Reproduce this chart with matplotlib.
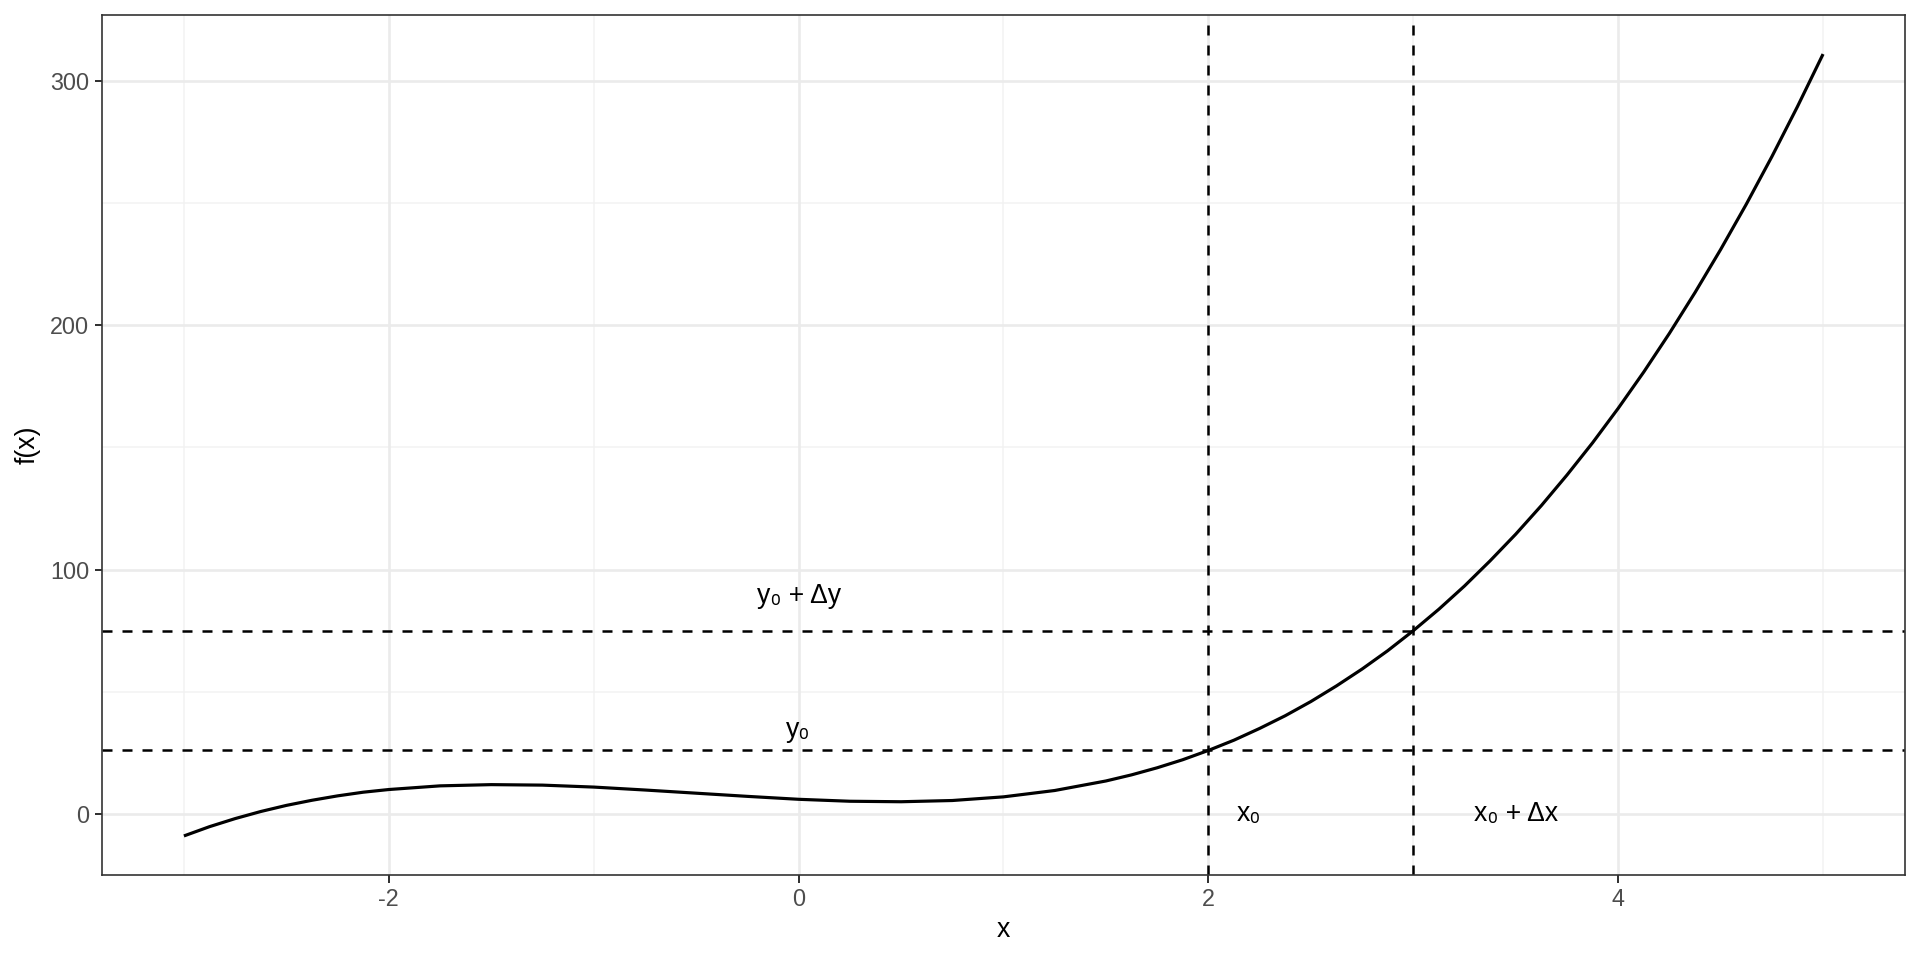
import matplotlib
matplotlib.use("Agg")
import matplotlib.pyplot as plt

# curve values
X = [-3, -2.875, -2.75, -2.625, -2.5, -2.375, -2.25, -2.125, -2, -1.75,
     -1.5, -1.25, -1, -0.75, -0.5, -0.25, 0, 0.25, 0.5, 0.75, 1, 1.25,
     1.5, 1.625, 1.75, 1.875, 2, 2.125, 2.25, 2.375, 2.5, 2.625, 2.75,
     2.875, 3, 3.125, 3.25, 3.375, 3.5, 3.625, 3.75, 3.875, 4, 4.125,
     4.25, 4.375, 4.5, 4.625, 4.75, 4.875, 5]
FX = [-9, -5.2, -1.9, 1.0, 3.5, 5.6, 7.4, 8.9, 10, 11.5,
      12, 11.8, 11, 9.8, 8.5, 7.2, 6, 5.2, 5, 5.5, 7, 9.6,
      13.5, 16.0, 18.9, 22.2, 26, 30.2, 35.0, 40.2, 46, 52.4, 59.3,
      66.8, 75, 83.8, 93.3, 103.6, 114.5, 126.2, 138.7, 151.9, 166, 180.9,
      196.7, 213.4, 231, 249.5, 269.0, 289.5, 311]

X0, DX = 2, 1
Y0, Y1 = 26, 75

# annotation labels (text, x, y)
LABELS = [("y\u2080 + \u0394y", 0, 89),
          ("y\u2080", 0, 34.5),
          ("x\u2080", 2.2, 0),
          ("x\u2080 + \u0394x", 3.5, 0)]

plt.rcParams["font.family"] = ["Liberation Sans", "DejaVu Sans"]

fig = plt.figure(figsize=(16, 8), dpi=120)
ax = fig.add_axes([0.0531, 0.0885, 0.9391, 0.8959])

# grid like theme_bw
for v in [-3, -1, 1, 3, 5]:
    ax.axvline(v, color="#F2F2F2", lw=0.9, zorder=0)
for v in [50, 150, 250]:
    ax.axhline(v, color="#F2F2F2", lw=0.9, zorder=0)
for v in [-2, 0, 2, 4]:
    ax.axvline(v, color="#EBEBEB", lw=1.6, zorder=0)
for v in [0, 100, 200, 300]:
    ax.axhline(v, color="#EBEBEB", lw=1.6, zorder=0)

ax.plot(X, FX, color="black", lw=1.9, zorder=3, solid_capstyle="butt")

for v in [X0, X0 + DX]:
    ax.axvline(v, color="black", lw=1.5, ls=(0, (4, 4)), zorder=2)
for v in [Y0, Y1]:
    ax.axhline(v, color="black", lw=1.5, ls=(0, (4, 4)), zorder=2)

for txt, tx, ty in LABELS:
    ax.text(tx, ty, txt, ha="center", va="center", fontsize=16, color="black")

ax.set_xlim(-3.4, 5.4)
ax.set_ylim(-25, 327)
ax.set_xticks([-2, 0, 2, 4])
ax.set_xticklabels(["-2", "0", "2", "4"])
ax.set_yticks([0, 100, 200, 300])
ax.tick_params(colors="#333333", labelcolor="#4D4D4D", labelsize=14,
               length=4.5, width=1.2, pad=3)
for s in ax.spines.values():
    s.set_color("#333333")
    s.set_linewidth(1.0)

ax.set_xlabel("x", fontsize=16, labelpad=4)
ax.set_ylabel("f(x)", fontsize=16, labelpad=6)

plt.savefig("out.png", dpi=120)
